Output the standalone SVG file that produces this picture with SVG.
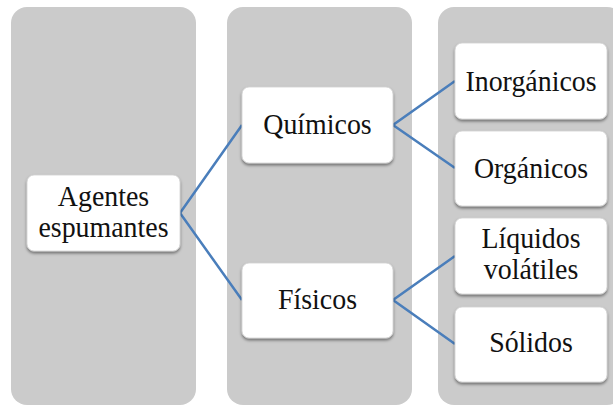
<svg xmlns="http://www.w3.org/2000/svg" width="613" height="410" viewBox="0 0 613 410">
<defs>
<filter id="sh" x="-10%" y="-10%" width="120%" height="130%">
<feDropShadow dx="0" dy="2" stdDeviation="1.5" flood-color="#000" flood-opacity="0.45"/>
</filter>
<style>
.col{fill:#cbcbcb;}
.node{fill:#ffffff;stroke:#d0d0d0;stroke-width:0.8;filter:url(#sh);}
.lbl{font-family:"Liberation Serif","Times New Roman",serif;font-size:30px;fill:#111;text-anchor:middle;}
.edge{fill:none;stroke:#4a7ebb;stroke-width:2.5;}
</style>
</defs>
<rect width="613" height="410" fill="#ffffff"/>
<g id="columns">
<rect class="col" x="11" y="7" width="185" height="398" rx="16"/>
<rect class="col" x="227" y="7" width="185" height="398" rx="16"/>
<rect class="col" x="438" y="7" width="185" height="398" rx="16"/>
</g>
<g id="connectors">
<polyline class="edge" points="242,125 180,213 242,300"/>
<polyline class="edge" points="455,81 393,125 455,168"/>
<polyline class="edge" points="455,256 393,300 455,344"/>
</g>
<g id="agentes">
<rect class="node" x="27" y="175" width="153" height="76" rx="7"/>
<text class="lbl" transform="translate(103.5,205.5) scale(0.93,1)">Agentes</text>
<text class="lbl" transform="translate(103.5,236.5) scale(0.93,1)">espumantes</text>
</g>
<g id="quimicos">
<rect class="node" x="242" y="87" width="151" height="76" rx="7"/>
<text class="lbl" transform="translate(317.5,134) scale(0.93,1)">Químicos</text>
</g>
<g id="fisicos">
<rect class="node" x="242" y="263" width="151" height="75" rx="7"/>
<text class="lbl" transform="translate(317.5,309) scale(0.93,1)">Físicos</text>
</g>
<g id="inorganicos">
<rect class="node" x="455" y="43" width="152" height="76" rx="7"/>
<text class="lbl" transform="translate(531,91) scale(0.93,1)">Inorgánicos</text>
</g>
<g id="organicos">
<rect class="node" x="455" y="131" width="152" height="75" rx="7"/>
<text class="lbl" transform="translate(531,178) scale(0.93,1)">Orgánicos</text>
</g>
<g id="liquidos">
<rect class="node" x="455" y="218" width="152" height="76" rx="7"/>
<text class="lbl" transform="translate(531,248) scale(0.93,1)">Líquidos</text>
<text class="lbl" transform="translate(531,279) scale(0.93,1)">volátiles</text>
</g>
<g id="solidos">
<rect class="node" x="455" y="307" width="152" height="75" rx="7"/>
<text class="lbl" transform="translate(531,352) scale(0.93,1)">Sólidos</text>
</g>
</svg>
